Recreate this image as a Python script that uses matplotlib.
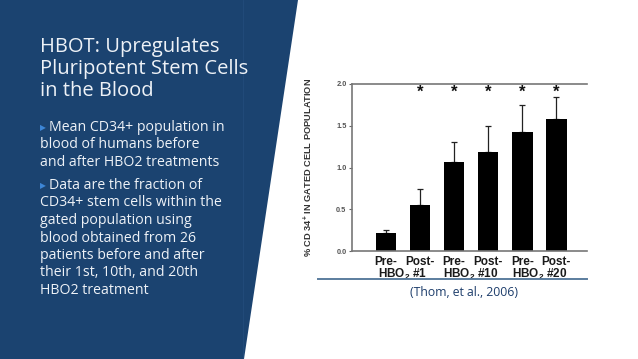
import matplotlib.pyplot as plt
from matplotlib.patches import Polygon
from matplotlib.lines import Line2D

plt.rcParams['mathtext.fontset'] = 'custom'
plt.rcParams['mathtext.rm'] = 'Liberation Sans:bold'
plt.rcParams['mathtext.bf'] = 'Liberation Sans:bold'

# Data
groups = ['Pre-', 'Post-', 'Pre-', 'Post-', 'Pre-', 'Post-']
treatments = ['HBO$_{2}$ #1', 'HBO$_{2}$ #10', 'HBO$_{2}$ #20']
means = [0.21, 0.55, 1.07, 1.18, 1.43, 1.58]
errors = [0.04, 0.19, 0.24, 0.32, 0.32, 0.27]
significant = [False, True, True, True, True, True]
yticks = [0.0, 0.5, 1.0, 1.5, 2.0]

title = 'HBOT: Upregulates\nPluripotent Stem Cells\nin the Blood'
bullets = [
    ['Mean CD34+ population in', 'blood of humans before', 'and after HBO2 treatments'],
    ['Data are the fraction of', 'CD34+ stem cells within the', 'gated population using',
     'blood obtained from 26', 'patients before and after', 'their 1st, 10th, and 20th',
     'HBO2 treatment'],
]

W, H = 638, 359
fig = plt.figure(figsize=(W / 100, H / 100), dpi=100)
fig.patch.set_facecolor('white')

def fx(px):
    return px / W

def fy(py):
    return 1 - py / H

# Navy slide panel with slanted edge
navy = '#1b4370'
panel = Polygon([(0, 1), (fx(298), 1), (fx(244), 0), (0, 0)], closed=True,
                transform=fig.transFigure, facecolor=navy, edgecolor='none', zorder=0)
fig.patches.append(panel)
fig.add_artist(Line2D([fx(243), fx(243)], [0, 1], color='#234c7b', lw=0.6,
                      transform=fig.transFigure))

# Left text
txt_font = ['Open Sans', 'DejaVu Sans']
fig.text(fx(40), fy(37), title, color='#eef2f7', fontsize=14.5, family=txt_font,
         va='top', ha='left', linespacing=1.15)

y = 120
for block in bullets:
    for i, line in enumerate(block):
        if i == 0:
            fig.text(fx(40), fy(y + 3), '\u25B6', color='#3d86d6', fontsize=5.5,
                     family=['DejaVu Sans'], va='top', ha='left')
            fig.text(fx(49), fy(y), line, color='#eef2f7', fontsize=10.2,
                     family=txt_font, va='top', ha='left')
        else:
            fig.text(fx(40), fy(y), line, color='#eef2f7', fontsize=10.2,
                     family=txt_font, va='top', ha='left')
        y += 17.5
    y += 5.5

# Chart
ax = fig.add_axes([fx(352), fy(251), fx(587) - fx(352), fy(84) - fy(251)])
x = list(range(len(means)))
ax.bar(x, means, width=0.6, color='black', zorder=2)
ax.errorbar(x, means, yerr=[[0] * len(errors), errors], fmt='none', ecolor='#222222',
            elinewidth=0.9, capsize=2.5, capthick=0.9, zorder=1)
for xi, sig in zip(x, significant):
    if sig:
        ax.text(xi, 1.90, '*', ha='center', va='center', fontsize=12,
                fontweight='bold', family='Liberation Sans', color='#111111')

ax.set_xlim(-1.0, 5.9)
ax.set_ylim(0, 2.0)
ax.set_yticks(yticks)
ax.set_yticklabels([f'{v:.1f}' for v in yticks], fontsize=5.3, fontweight='bold',
                   family='Liberation Sans', color='#555555')
ax.tick_params(axis='y', length=2.5, width=0.8, color='#666666', pad=1.5)
ax.set_xticks([])
for side in ['left', 'top', 'bottom']:
    ax.spines[side].set_color('#777777')
    ax.spines[side].set_linewidth(1.2)
ax.spines['right'].set_visible(False)
ax.set_ylabel('% CD 34$^{+}$ IN GATED CELL POPULATION', fontsize=6.7, fontweight='bold',
              family='Liberation Sans', color='#333333', labelpad=15)

for xi, g in zip(x, groups):
    ax.text(xi, -0.06, g, ha='center', va='top', fontsize=8.5,
            fontweight='bold', family='Liberation Sans', color='#1a1a1a', clip_on=False)
for k, t in enumerate(treatments):
    ax.text(2 * k + 0.5, -0.19, t, ha='center', va='top', fontsize=8.5,
            fontweight='bold', family='Liberation Sans', color='#1a1a1a', clip_on=False)

# Divider line and citation
fig.add_artist(Line2D([fx(318), fx(587)], [fy(279), fy(279)], color='#5b7d9e', lw=1.4,
                      transform=fig.transFigure))
fig.text(fx(464), fy(292), '(Thom, et al., 2006)', ha='center', va='center', fontsize=8.8,
         family=txt_font, color='#1d3d6b')

fig.savefig('out.png', dpi=100)
